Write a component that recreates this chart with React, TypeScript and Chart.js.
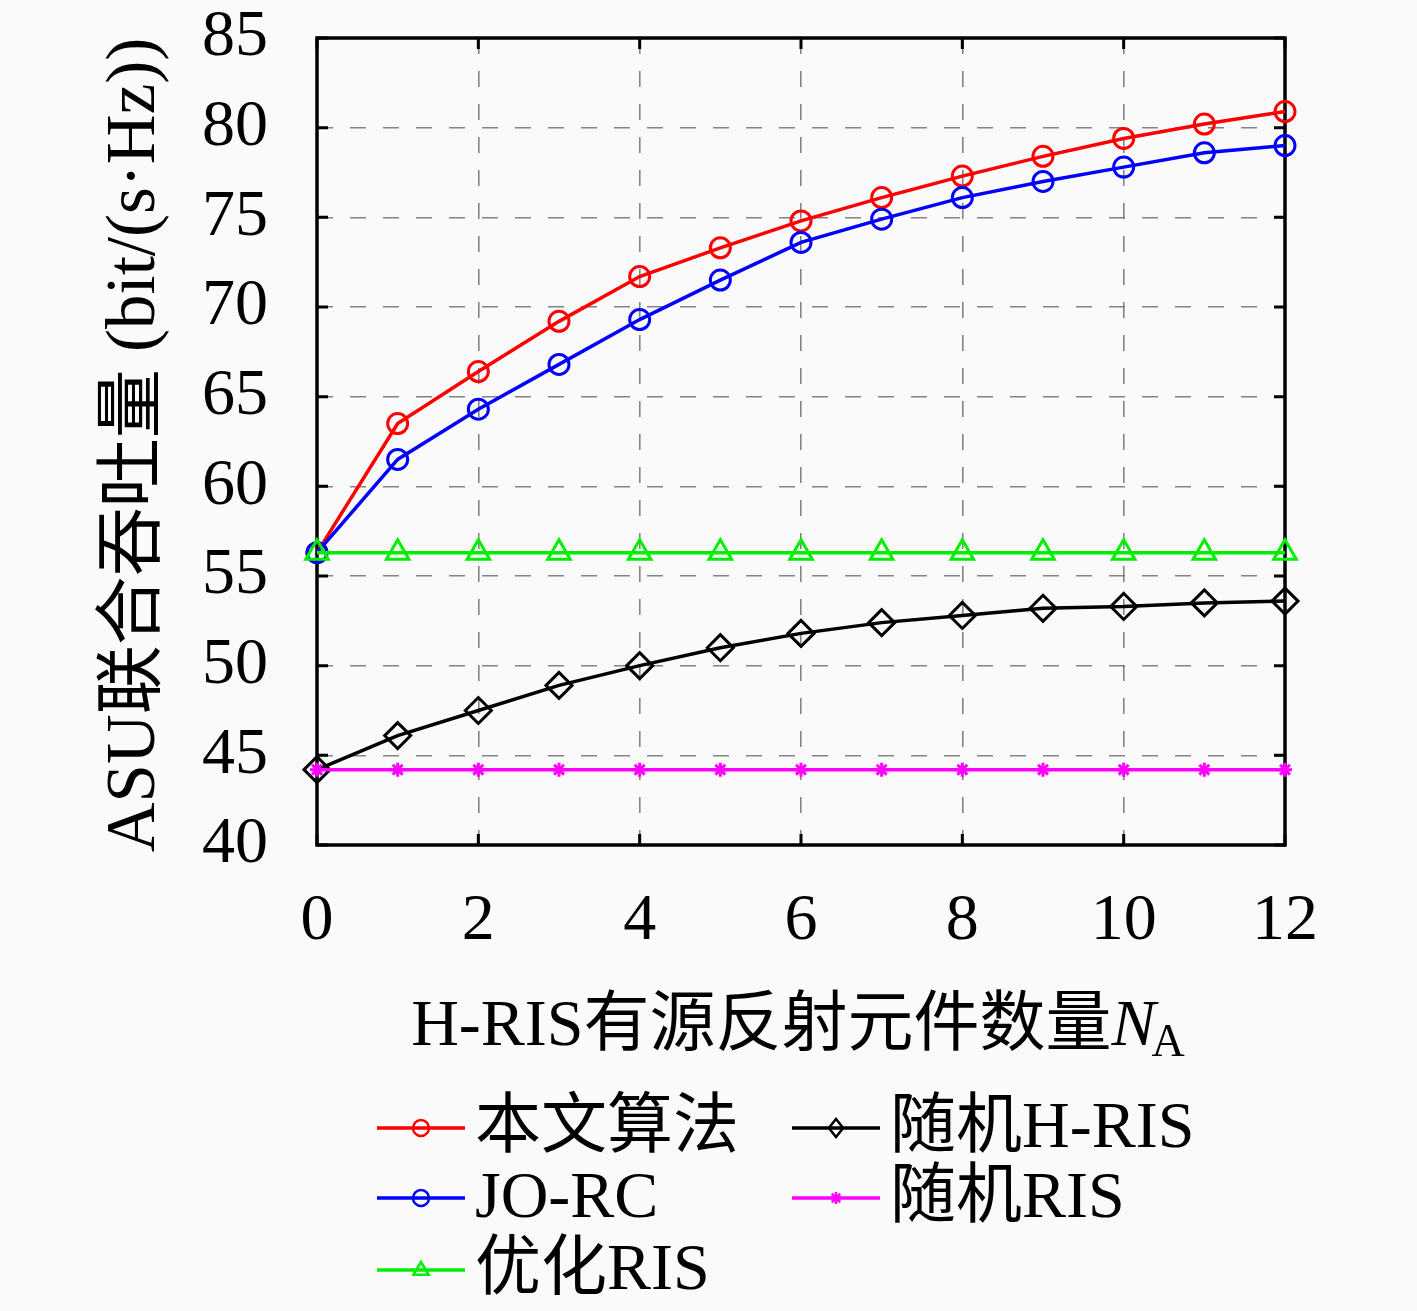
import React, { useEffect, useRef } from "react";
import { Chart, registerables } from "chart.js";

Chart.register(...registerables);

// ---------- data ----------
const elementCounts = [0, 1, 2, 3, 4, 5, 6, 7, 8, 9, 10, 11, 12];
const proposedAlg = [56.3, 63.5, 66.4, 69.2, 71.7, 73.3, 74.8, 76.1, 77.3, 78.4, 79.4, 80.2, 80.9];
const joRc = [56.3, 61.5, 64.3, 66.8, 69.3, 71.5, 73.6, 74.9, 76.1, 77.0, 77.8, 78.6, 79.0];
const optimizedRis = [56.3, 56.3, 56.3, 56.3, 56.3, 56.3, 56.3, 56.3, 56.3, 56.3, 56.3, 56.3, 56.3];
const randomHRis = [44.2, 46.1, 47.5, 48.9, 50.0, 51.0, 51.8, 52.4, 52.8, 53.2, 53.3, 53.5, 53.6];
const randomRis = [44.2, 44.2, 44.2, 44.2, 44.2, 44.2, 44.2, 44.2, 44.2, 44.2, 44.2, 44.2, 44.2];

const seriesLabels = ["本文算法", "JO-RC", "优化RIS", "随机H-RIS", "随机RIS"];
const xTicks = [0, 2, 4, 6, 8, 10, 12];
const yTicks = [40, 45, 50, 55, 60, 65, 70, 75, 80, 85];
const xTitleMain = "H-RIS有源反射元件数量";
const xTitleVar = "N";
const xTitleSub = "A";
const yTitle = "ASU联合吞吐量 (bit/(s·Hz))";

const FONT = '"Liberation Serif", "Noto Sans CJK SC", serif';
const FS = 66;

type Style = "circle" | "rectRot" | "triangle" | "star";

function drawMarker(ctx: CanvasRenderingContext2D, style: Style, x: number, y: number, r: number, color: string) {
  ctx.save();
  ctx.strokeStyle = color;
  ctx.lineWidth = 2.5;
  ctx.beginPath();
  if (style === "circle") {
    ctx.arc(x, y, r, 0, Math.PI * 2);
  } else if (style === "rectRot") {
    ctx.moveTo(x, y - r);
    ctx.lineTo(x + r * 0.8, y);
    ctx.lineTo(x, y + r);
    ctx.lineTo(x - r * 0.8, y);
    ctx.closePath();
  } else if (style === "triangle") {
    ctx.moveTo(x, y - r);
    ctx.lineTo(x + r * 0.95, y + r * 0.6);
    ctx.lineTo(x - r * 0.95, y + r * 0.6);
    ctx.closePath();
  } else {
    for (let i = 0; i < 4; i++) {
      const a = (i * Math.PI) / 4;
      ctx.moveTo(x + Math.cos(a) * r, y + Math.sin(a) * r);
      ctx.lineTo(x - Math.cos(a) * r, y - Math.sin(a) * r);
    }
  }
  ctx.stroke();
  ctx.restore();
}

const colors = ["#ff0000", "#0000ff", "#00ee00", "#000000", "#ff00ff"];
const styles: Style[] = ["circle", "circle", "triangle", "rectRot", "star"];
const radii = [10, 10, 13, 13, 7];
const seriesData = [proposedAlg, joRc, optimizedRis, randomHRis, randomRis];

const decorPlugin = {
  id: "decor",
  beforeDraw(chart: any) {
    const ctx = chart.ctx as CanvasRenderingContext2D;
    ctx.save();
    ctx.fillStyle = "#fafafa";
    ctx.fillRect(0, 0, chart.width, chart.height);
    ctx.restore();
  },
  beforeDatasetsDraw(chart: any) {
    const ctx = chart.ctx as CanvasRenderingContext2D;
    const { left, right, top, bottom } = chart.chartArea;
    const xs = chart.scales.x;
    const ys = chart.scales.y;
    ctx.save();
    ctx.strokeStyle = "#000";
    ctx.lineWidth = 3;
    const tl = 11;
    ctx.beginPath();
    xTicks.forEach((v) => {
      const px = xs.getPixelForValue(v);
      ctx.moveTo(px, bottom);
      ctx.lineTo(px, bottom - tl);
      ctx.moveTo(px, top);
      ctx.lineTo(px, top + tl);
    });
    yTicks.forEach((v) => {
      const py = ys.getPixelForValue(v);
      ctx.moveTo(left, py);
      ctx.lineTo(left + tl, py);
      ctx.moveTo(right, py);
      ctx.lineTo(right - tl, py);
    });
    ctx.stroke();
    ctx.lineWidth = 3.5;
    ctx.strokeRect(left, top, right - left, bottom - top);
    ctx.restore();
  },
  afterDraw(chart: any) {
    const ctx = chart.ctx as CanvasRenderingContext2D;
    ctx.save();
    ctx.fillStyle = "#000";
    // x title
    ctx.textBaseline = "alphabetic";
    ctx.textAlign = "left";
    ctx.font = `${FS}px ${FONT}`;
    const mainW = ctx.measureText(xTitleMain).width;
    ctx.font = `italic ${FS}px ${FONT}`;
    const nW = ctx.measureText(xTitleVar).width;
    ctx.font = `${Math.round(FS * 0.7)}px ${FONT}`;
    const aW = ctx.measureText(xTitleSub).width;
    const total = mainW + nW + aW;
    let sx = 800 - total / 2;
    const base = 1045;
    ctx.font = `${FS}px ${FONT}`;
    ctx.fillText(xTitleMain, sx, base);
    sx += mainW;
    ctx.font = `italic ${FS}px ${FONT}`;
    ctx.fillText(xTitleVar, sx, base);
    sx += nW - 4;
    ctx.font = `${Math.round(FS * 0.7)}px ${FONT}`;
    ctx.fillText(xTitleSub, sx, base + 11);

    // y title
    ctx.save();
    ctx.translate(154, 445);
    ctx.rotate(-Math.PI / 2);
    ctx.font = `${FS + 3}px ${FONT}`;
    ctx.textAlign = "center";
    ctx.textBaseline = "alphabetic";
    ctx.fillText(yTitle, 0, 0);
    ctx.restore();

    // legend
    const cols = [
      { x1: 377, x2: 465, tx: 475 },
      { x1: 792, x2: 880, tx: 890 },
    ];
    const rows = [1128, 1198, 1270];
    const order = [
      { i: 0, c: 0, r: 0 },
      { i: 1, c: 0, r: 1 },
      { i: 2, c: 0, r: 2 },
      { i: 3, c: 1, r: 0 },
      { i: 4, c: 1, r: 1 },
    ];
    order.forEach(({ i, c, r }) => {
      const col = cols[c];
      const y = rows[r];
      ctx.save();
      ctx.strokeStyle = colors[i];
      ctx.lineWidth = 3.5;
      ctx.beginPath();
      ctx.moveTo(col.x1, y);
      ctx.lineTo(col.x2, y);
      ctx.stroke();
      ctx.restore();
      drawMarker(ctx, styles[i], (col.x1 + col.x2) / 2, y, i === 4 ? 6 : i === 3 ? 9 : 8, colors[i]);
      ctx.font = `${FS}px ${FONT}`;
      ctx.textAlign = "left";
      ctx.textBaseline = "middle";
      ctx.fillStyle = "#000";
      ctx.fillText(seriesLabels[i], col.tx, y + 2);
    });
    ctx.restore();
  },
};

export default function App() {
  const ref = useRef<HTMLCanvasElement | null>(null);
  useEffect(() => {
    if (!ref.current) return;
    const datasets = seriesData.map((vals, i) => ({
      label: seriesLabels[i],
      data: elementCounts.map((x, k) => ({ x, y: vals[k] })),
      borderColor: colors[i],
      backgroundColor: "rgba(0,0,0,0)",
      borderWidth: 3.5,
      pointStyle: styles[i],
      pointRadius: radii[i],
      pointBorderWidth: 3,
      pointBorderColor: colors[i],
      pointBackgroundColor: "rgba(0,0,0,0)",
      tension: 0,
      order: seriesData.length - i,
      clip: false as any,
    }));
    const chart = new Chart(ref.current, {
      type: "line",
      data: { datasets },
      options: {
        animation: false,
        responsive: false,
        devicePixelRatio: 1,
        layout: { padding: { left: 0, top: 38, right: 132, bottom: 0 } },
        plugins: { legend: { display: false }, tooltip: { enabled: false }, title: { display: false } },
        scales: {
          x: {
            type: "linear",
            min: 0,
            max: 12,
            afterBuildTicks: (s: any) => {
              s.ticks = xTicks.map((v) => ({ value: v }));
            },
            afterFit: (s: any) => {
              s.height = 466;
              s.paddingLeft = 0;
              s.paddingRight = 0;
              s.paddingTop = 0;
              s.paddingBottom = 0;
            },
            ticks: { color: "#000", font: { family: FONT, size: FS }, padding: 37, maxRotation: 0 },
            grid: { color: "rgba(110,110,110,0.85)", lineWidth: 1.6, drawTicks: false },
            border: { display: false, dash: [16, 17] },
          },
          y: {
            type: "linear",
            min: 40,
            max: 85,
            afterBuildTicks: (s: any) => {
              s.ticks = yTicks.map((v) => ({ value: v }));
            },
            afterFit: (s: any) => {
              s.width = 317;
              s.paddingLeft = 0;
              s.paddingRight = 0;
              s.paddingTop = 0;
              s.paddingBottom = 0;
            },
            ticks: { color: "#000", font: { family: FONT, size: FS }, padding: 49 },
            grid: { color: "rgba(110,110,110,0.85)", lineWidth: 1.6, drawTicks: false },
            border: { display: false, dash: [16, 17] },
          },
        },
      },
      plugins: [decorPlugin],
    });
    return () => chart.destroy();
  }, []);
  return (
    <div style={{ position: "absolute", left: 0, top: 0, width: 1417, height: 1311 }}>
      <canvas ref={ref} width={1417} height={1311} style={{ width: 1417, height: 1311, display: "block" }} />
    </div>
  );
}
